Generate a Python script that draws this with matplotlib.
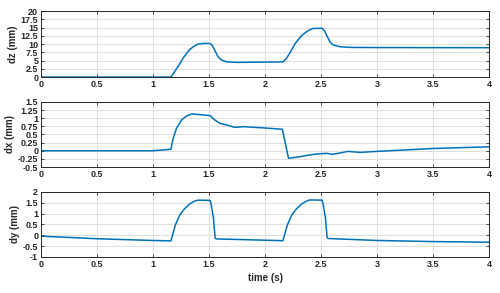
import numpy as np
import matplotlib
matplotlib.use("Agg")
import matplotlib.pyplot as plt
from matplotlib.ticker import FuncFormatter

# displacement traces (time in s, values in mm)
dz_t = [0, 1.16, 1.20, 1.24, 1.27, 1.30, 1.33, 1.36, 1.40, 1.45, 1.51, 1.53, 1.55, 1.58,
        1.61, 1.66, 1.75, 1.90, 2.16, 2.19, 2.22, 2.27, 2.33, 2.39, 2.43, 2.51, 2.53, 2.55,
        2.58, 2.61, 2.67, 2.76, 3.0, 4.0]
dz = [0, 0, 2.0, 4.1, 5.8, 7.2, 8.4, 9.2, 10.0, 10.2, 10.2, 9.6, 8.2, 6.2,
      5.2, 4.6, 4.45, 4.5, 4.6, 5.6, 7.2, 10.2, 12.7, 14.2, 14.75, 14.8, 14.1, 12.7,
      10.7, 9.7, 9.2, 9.0, 8.95, 8.9]

dx_t = [0, 1.0, 1.16, 1.18, 1.21, 1.256, 1.30, 1.345, 1.39, 1.45, 1.51, 1.55, 1.60, 1.66,
        1.73, 1.81, 1.90, 2.0, 2.155, 2.21, 2.3, 2.38, 2.46, 2.55, 2.6, 2.67, 2.74, 2.85,
        3.0, 3.5, 4.0]
dx = [0, 0, 0.045, 0.38, 0.69, 0.95, 1.07, 1.13, 1.12, 1.10, 1.08, 0.95, 0.84, 0.79,
      0.72, 0.74, 0.72, 0.70, 0.66, -0.23, -0.19, -0.14, -0.10, -0.08, -0.11, -0.07, -0.02, -0.05,
      -0.02, 0.07, 0.12]

dy_t = [0, 0.5, 1.0, 1.16, 1.20, 1.24, 1.27, 1.30, 1.33, 1.36, 1.40, 1.51, 1.52, 1.54,
        1.555, 1.57, 1.8, 2.16, 2.20, 2.24, 2.27, 2.30, 2.33, 2.36, 2.40, 2.51, 2.52, 2.54,
        2.555, 2.57, 3.0, 3.5, 4.0]
dy = [-0.04, -0.16, -0.24, -0.26, 0.48, 0.94, 1.15, 1.32, 1.45, 1.55, 1.62, 1.61, 1.40, 0.78,
      -0.14, -0.17, -0.20, -0.25, 0.48, 0.94, 1.15, 1.32, 1.45, 1.55, 1.63, 1.62, 1.40, 0.78,
      -0.12, -0.15, -0.24, -0.29, -0.32]

x_ticks = np.arange(0, 4.01, 0.5)
panels = [
    ("dz (mm)", dz_t, dz, (0, 20), np.arange(0, 20.01, 2.5)),
    ("dx (mm)", dx_t, dx, (-0.5, 1.5), np.arange(-0.5, 1.51, 0.25)),
    ("dy (mm)", dy_t, dy, (-1, 2), np.arange(-1, 2.01, 0.5)),
]

plt.rcParams['font.family'] = ['Liberation Sans', 'DejaVu Sans']
plt.rcParams['font.weight'] = 'bold'

fig = plt.figure(figsize=(5, 2.93), dpi=100)
# axes boxes in figure fractions (left, bottom, width, height)
boxes = [(0.082, 0.737, 0.896, 0.225),
         (0.082, 0.430, 0.896, 0.222),
         (0.082, 0.123, 0.896, 0.222)]

fmt = FuncFormatter(lambda v, p: "%g" % round(v, 3))
edge = "#262626"

for (label, t, y, ylim, yticks), box in zip(panels, boxes):
    ax = fig.add_axes(box)
    ax.plot(t, y, color="#0072BD", lw=1.1)
    ax.set_xlim(0, 4)
    ax.set_ylim(*ylim)
    ax.set_xticks(x_ticks)
    ax.set_yticks(yticks)
    ax.xaxis.set_major_formatter(fmt)
    ax.yaxis.set_major_formatter(fmt)
    ax.grid(True, color="#e0e0e0", lw=0.8)
    ax.set_axisbelow(True)
    ax.tick_params(direction="in", top=True, right=True, length=2.5, width=0.6,
                   colors=edge, labelsize=6.5, pad=2)
    for s in ax.spines.values():
        s.set_color(edge)
        s.set_linewidth(0.7)
    ax.set_ylabel(label, fontsize=7, fontweight="bold", color=edge, labelpad=2)

ax.set_xlabel("time (s)", fontsize=7, fontweight="bold", color=edge, labelpad=3)

fig.savefig("out.png", dpi=100)
